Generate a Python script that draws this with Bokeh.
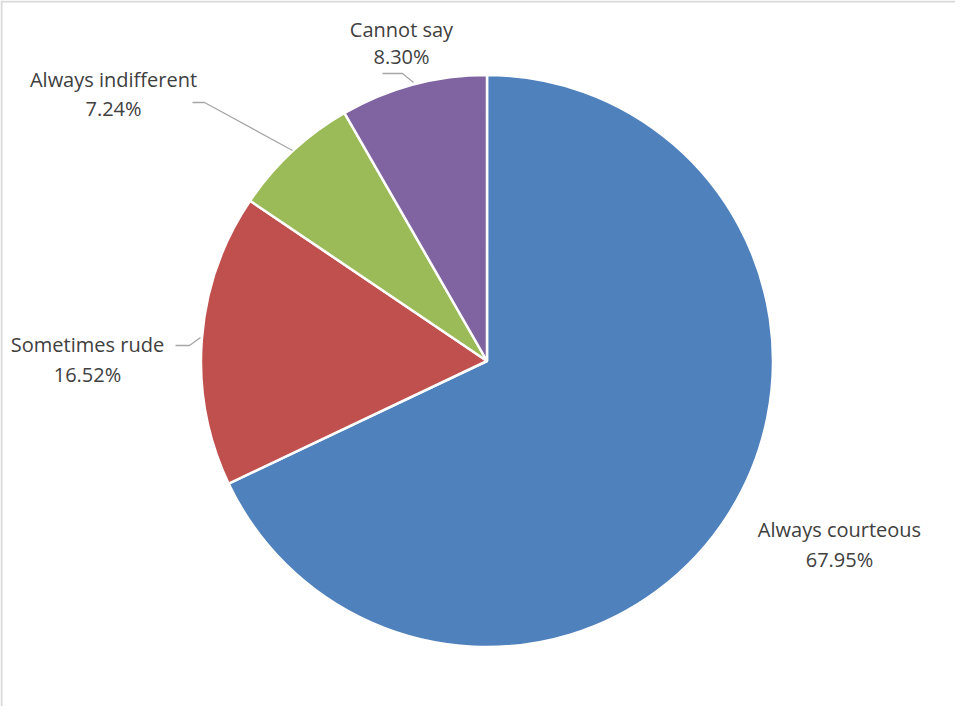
import math
from bokeh.plotting import figure
from bokeh.models import Range1d, ColumnDataSource, Span
from bokeh.core.properties import value
from bokeh.embed import file_html
from bokeh.resources import INLINE

# ---- data ----
categories = ["Always courteous", "Sometimes rude", "Always indifferent", "Cannot say"]
percents = [67.95, 16.52, 7.24, 8.30]
pct_labels = ["67.95%", "16.52%", "7.24%", "8.30%"]
colors = ["#4F81BD", "#C0504D", "#9BBB59", "#8064A2"]

# ---- layout (pixel-like data space) ----
W, H = 955, 706
def sy(y):  # screen y -> data y
    return 8 + H - y
def sx(x):
    return x - 8

cx, cy, R = sx(494.5), sy(368.5), 286

total = sum(percents)
starts, ends = [], []
cum = 0.0
for v in percents:
    starts.append(math.pi / 2 - 2 * math.pi * cum / total)
    cum += v
    ends.append(math.pi / 2 - 2 * math.pi * cum / total)

p = figure(width=W, height=H, output_backend="svg", toolbar_location=None,
           x_range=Range1d(0, W), y_range=Range1d(0, H), min_border=0)
p.axis.visible = False
p.grid.visible = False
p.outline_line_color = None
p.background_fill_color = "white"

# chart-area border (left and top visible in the crop)
p.add_layout(Span(location=1, dimension="height", line_color="#D9D9D9", line_width=2))
p.add_layout(Span(location=H - 1, dimension="width", line_color="#D9D9D9", line_width=2))

src = ColumnDataSource(dict(start=starts, end=ends, color=colors))
p.wedge(x=cx, y=cy, radius=R, start_angle="start", end_angle="end",
        direction="clock", fill_color="color", line_color="white",
        line_width=2.5, source=src)

# label positions (screen coords, centres of the two lines)
label_pos = [(847, 537, 567), (95, 352, 382), (121, 87, 116), (409, 37, 64)]
for (x, y1, y2), name, pl in zip(label_pos, categories, pct_labels):
    p.text(x=[sx(x)], y=[sy(y1)], text=[name], text_align="center",
           text_baseline="middle", text_font=value("Open Sans"),
           text_font_size="20px", text_color="#404040")
    p.text(x=[sx(x)], y=[sy(y2)], text=[pl], text_align="center",
           text_baseline="middle", text_font=value("Open Sans"),
           text_font_size="20px", text_color="#404040")

# leader lines (screen coords)
leaders = [
    [(183, 353), (197, 353), (208, 345)],
    [(200, 110), (212, 110), (300, 158)],
    [(390, 81), (410, 81), (421, 90)],
]
for pts in leaders:
    p.line(x=[sx(a) for a, b in pts], y=[sy(b) for a, b in pts],
           line_color="#A6A6A6", line_width=1.3)

open("out.html", "w").write(file_html(p, INLINE))
